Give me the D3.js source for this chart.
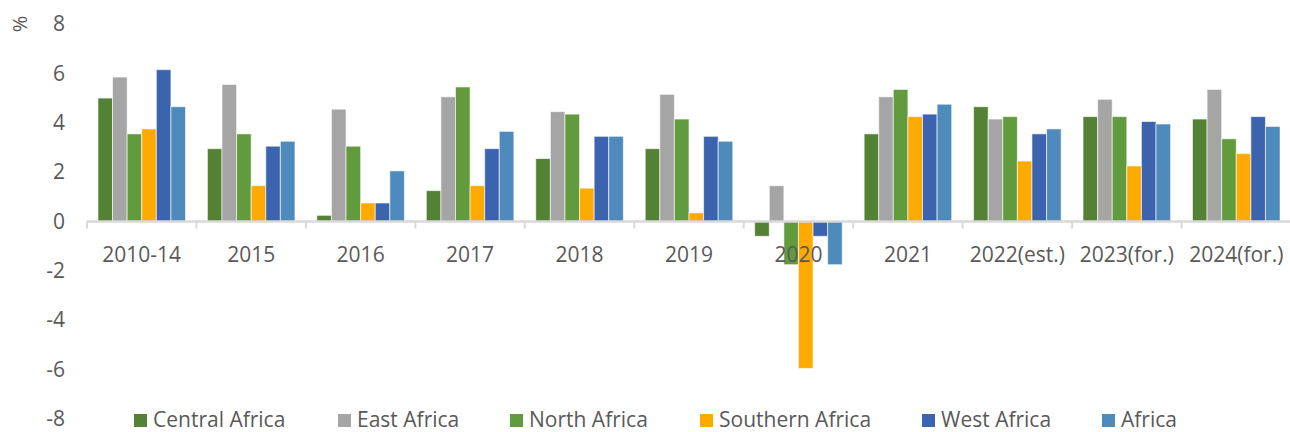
<!DOCTYPE html>
<html>
  <head>
    <meta charset="utf-8">
    <title>Africa growth bar chart</title>
    <script src="https://cdnjs.cloudflare.com/ajax/libs/d3/7.8.5/d3.min.js"></script>
    <style>
      body { margin: 0; background: #fff; }
      text { font-family: "Open Sans", sans-serif; fill: #595959; }
    </style>
  </head>
  <body>
    <script>

      // categories and series values
      var categories = ["2010-14", "2015", "2016", "2017", "2018", "2019", "2020", "2021", "2022(est.)", "2023(for.)", "2024(for.)"];
      var regions = ["Central Africa", "East Africa", "North Africa", "Southern Africa", "West Africa", "Africa"];

      var centralAfrica  = [5.0, 2.95, 0.25, 1.25, 2.55, 2.95, -0.6, 3.55, 4.65, 4.25, 4.15];
      var eastAfrica     = [5.85, 5.55, 4.55, 5.05, 4.45, 5.15, 1.45, 5.05, 4.15, 4.95, 5.35];
      var northAfrica    = [3.55, 3.55, 3.05, 5.45, 4.35, 4.15, -1.75, 5.35, 4.25, 4.25, 3.35];
      var southernAfrica = [3.75, 1.45, 0.75, 1.45, 1.35, 0.35, -5.95, 4.25, 2.45, 2.25, 2.75];
      var westAfrica     = [6.15, 3.05, 0.75, 2.95, 3.45, 3.45, -0.6, 4.35, 3.55, 4.05, 4.25];
      var africa         = [4.65, 3.25, 2.05, 3.65, 3.45, 3.25, -1.75, 4.75, 3.75, 3.95, 3.85];

      var yTicks = [-8, -6, -4, -2, 0, 2, 4, 6, 8];

      var seriesValues = [centralAfrica, eastAfrica, northAfrica, southernAfrica, westAfrica, africa];
      var colors = ["#548235", "#a5a5a5", "#629b3e", "#ffaa00", "#3c64ae", "#4f8abd"];

      var outerWidth = 1290;
      var outerHeight = 432;

      var svg = d3.select("body").append("svg")
        .attr("width", outerWidth)
        .attr("height", outerHeight);

      // scales
      var x0 = d3.scaleBand().domain(categories).range([87, 1291]).padding(0);
      var x1 = d3.scaleBand().domain(regions).range([0, x0.bandwidth()])
        .paddingInner(0).paddingOuter(0.75);
      var yScale = d3.scaleLinear().domain([-8, 8]).range([419, 24]);
      var colorScale = d3.scaleOrdinal().domain(regions).range(colors);

      // y tick labels (no axis line, no gridlines), plain hyphen for negatives
      var yAxisG = svg.append("g").attr("transform", "translate(65,0)");
      yAxisG.call(d3.axisLeft(yScale).tickValues(yTicks).tickSize(0).tickPadding(0)
        .tickFormat(function (d) { return String(d); }));
      yAxisG.select(".domain").remove();
      yAxisG.selectAll("text")
        .style("font-size", "21px")
        .style("font-family", "'Open Sans', sans-serif")
        .attr("fill", "#595959");

      svg.append("text")
        .attr("transform", "translate(27,24) rotate(-90)")
        .attr("text-anchor", "middle")
        .style("font-size", "20px")
        .text("%");

      // bars
      var data = categories.map(function (c, i) {
        return { cat: c, vals: regions.map(function (r, j) { return { key: r, value: seriesValues[j][i] }; }) };
      });

      var groups = svg.append("g").selectAll("g")
        .data(data)
        .enter().append("g")
        .attr("transform", function (d) { return "translate(" + x0(d.cat) + ",0)"; });

      groups.selectAll("rect")
        .data(function (d) { return d.vals; })
        .enter().append("rect")
        .attr("x", function (d) { return x1(d.key); })
        .attr("y", function (d) { return yScale(Math.max(0, d.value)); })
        .attr("width", x1.bandwidth())
        .attr("height", function (d) { return Math.abs(yScale(d.value) - yScale(0)); })
        .attr("fill", function (d) { return colorScale(d.key); })
        .attr("stroke", "#ffffff")
        .attr("stroke-opacity", 0.6)
        .attr("stroke-width", 1);

      // x axis at zero
      var xAxisG = svg.append("g").attr("transform", "translate(0," + yScale(0) + ")");
      xAxisG.append("line")
        .attr("x1", x0.range()[0]).attr("x2", x0.range()[1])
        .attr("stroke", "#d9d9d9").attr("stroke-width", 2.5);
      xAxisG.selectAll(".tick")
        .data(categories)
        .enter().append("line")
        .attr("x1", function (d) { return x0(d); })
        .attr("x2", function (d) { return x0(d); })
        .attr("y1", 0).attr("y2", 7)
        .attr("stroke", "#d9d9d9").attr("stroke-width", 2);
      xAxisG.selectAll(".lbl")
        .data(categories)
        .enter().append("text")
        .attr("x", function (d) { return x0(d) + x0.bandwidth() / 2; })
        .attr("y", 40)
        .attr("text-anchor", "middle")
        .style("font-size", "21px")
        .text(function (d) { return d; });

      // legend
      var legendX = [134, 338, 510, 700, 922, 1102];
      var legend = svg.append("g").selectAll("g")
        .data(regions)
        .enter().append("g")
        .attr("transform", function (d, i) { return "translate(" + legendX[i] + ",414)"; });
      legend.append("rect")
        .attr("width", 13).attr("height", 13)
        .attr("fill", function (d) { return colorScale(d); });
      legend.append("text")
        .attr("x", 19).attr("y", 13)
        .style("font-size", "21px")
        .text(function (d) { return d; });

    </script>
  </body>
</html>
